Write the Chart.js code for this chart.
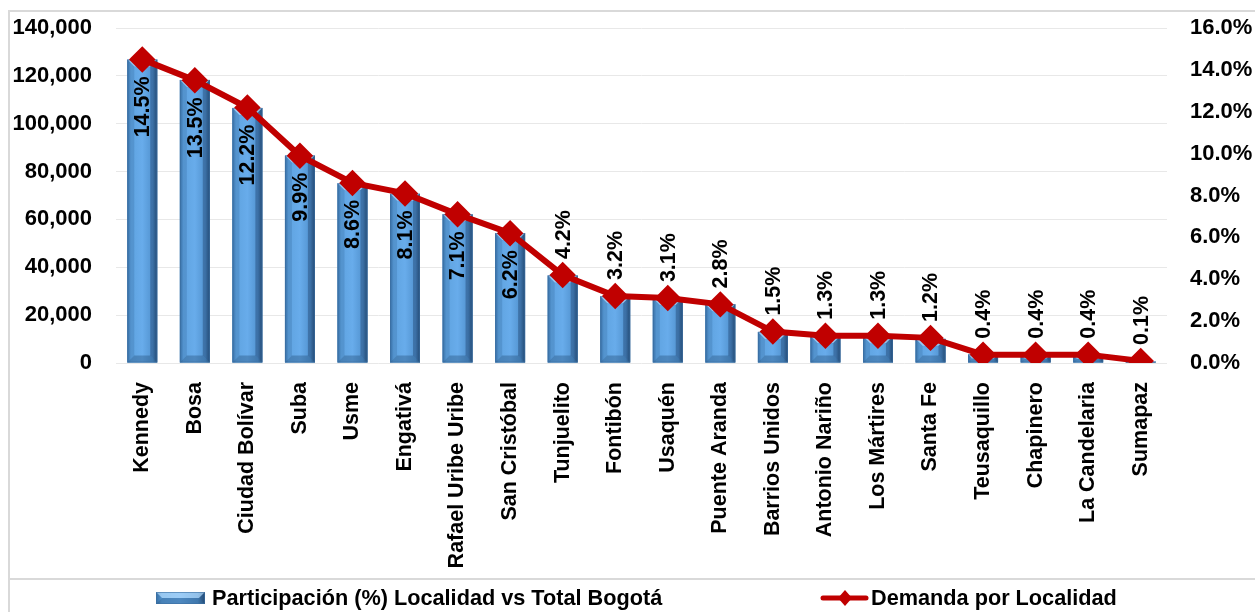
<!DOCTYPE html>
<html>
<head>
<meta charset="utf-8">
<script src="https://cdn.jsdelivr.net/npm/chart.js@4/dist/chart.umd.min.js"></script>
<style>
  html, body { margin: 0; padding: 0; background: #ffffff; }
  #wrap { width: 1255px; height: 612px; position: relative; }
</style>
</head>
<body>
<div id="wrap"><canvas id="c" width="1255" height="612"></canvas></div>
<script>
const categories = ["Kennedy", "Bosa", "Ciudad Bolívar", "Suba", "Usme", "Engativá", "Rafael Uribe Uribe", "San Cristóbal", "Tunjuelito", "Fontibón", "Usaquén", "Puente Aranda", "Barrios Unidos", "Antonio Nariño", "Los Mártires", "Santa Fe", "Teusaquillo", "Chapinero", "La Candelaria", "Sumapaz"];
const demandValues = [126800, 118300, 106600, 86700, 75100, 70700, 62200, 54300, 36600, 27900, 27200, 24600, 13000, 11300, 11200, 10100, 3600, 3500, 3300, 600];
const shareValues = [14.5, 13.5, 12.2, 9.9, 8.6, 8.1, 7.1, 6.2, 4.2, 3.2, 3.1, 2.8, 1.5, 1.3, 1.3, 1.2, 0.4, 0.4, 0.4, 0.1];
const leftTicks = [0, 20000, 40000, 60000, 80000, 100000, 120000, 140000];
const rightTicks = [0, 2, 4, 6, 8, 10, 12, 14, 16];
const barLegendLabel = "Participación (%) Localidad vs Total Bogotá";
const lineLegendLabel = "Demanda por Localidad";

const FONT = '"Liberation Sans", Arial, sans-serif';
const RED = '#c00000';

const frame = {
  id: 'frame',
  beforeDraw(chart) {
    const ctx = chart.ctx;
    ctx.save();
    ctx.fillStyle = '#ffffff';
    ctx.fillRect(0, 0, chart.width, chart.height);
    ctx.strokeStyle = '#d9d9d9';
    ctx.lineWidth = 2;
    ctx.beginPath();
    ctx.moveTo(9, chart.height + 5);
    ctx.lineTo(9, 11);
    ctx.lineTo(chart.width + 5, 11);
    ctx.stroke();
    ctx.beginPath();
    ctx.moveTo(9, 579);
    ctx.lineTo(chart.width + 5, 579);
    ctx.stroke();
    ctx.restore();
  }
};

function drawBevelBar(ctx, x0, x1, yTop, yBot) {
  const w = x1 - x0, h = yBot - yTop;
  if (h <= 0) return;
  const g = ctx.createLinearGradient(x0, 0, x1, 0);
  g.addColorStop(0, '#3b73aa');
  g.addColorStop(0.12, '#5fa3e0');
  g.addColorStop(0.5, '#68aceb');
  g.addColorStop(0.85, '#5293d0');
  g.addColorStop(1, '#2d5a86');
  ctx.fillStyle = g;
  ctx.fillRect(x0, yTop, w, h);
  const b = Math.min(7, h / 2, w / 2);
  ctx.fillStyle = 'rgba(200,232,255,0.55)';
  ctx.beginPath();
  ctx.moveTo(x0, yTop); ctx.lineTo(x1, yTop); ctx.lineTo(x1 - b, yTop + b); ctx.lineTo(x0 + b, yTop + b); ctx.closePath();
  ctx.fill();
  ctx.fillStyle = 'rgba(30,70,110,0.35)';
  ctx.beginPath();
  ctx.moveTo(x0, yBot); ctx.lineTo(x1, yBot); ctx.lineTo(x1 - b, yBot - b); ctx.lineTo(x0 + b, yBot - b); ctx.closePath();
  ctx.fill();
  ctx.fillStyle = 'rgba(40,90,140,0.22)';
  ctx.beginPath();
  ctx.moveTo(x0, yTop); ctx.lineTo(x0 + b, yTop + b); ctx.lineTo(x0 + b, yBot - b); ctx.lineTo(x0, yBot); ctx.closePath();
  ctx.fill();
  ctx.fillStyle = 'rgba(20,50,90,0.35)';
  ctx.beginPath();
  ctx.moveTo(x1, yTop); ctx.lineTo(x1 - b, yTop + b); ctx.lineTo(x1 - b, yBot - b); ctx.lineTo(x1, yBot); ctx.closePath();
  ctx.fill();
  ctx.strokeStyle = 'rgba(60,110,160,0.6)';
  ctx.lineWidth = 1;
  ctx.strokeRect(x0 + 0.5, yTop + 0.5, w - 1, h - 1);
}

const bevelBars = {
  id: 'bevelBars',
  afterDatasetDraw(chart, args) {
    if (args.index !== 1) return;
    const ctx = chart.ctx;
    const meta = chart.getDatasetMeta(1);
    ctx.save();
    meta.data.forEach(el => {
      const p = el.getProps(['x', 'y', 'base', 'width'], true);
      drawBevelBar(ctx, p.x - p.width / 2, p.x + p.width / 2, p.y, p.base);
    });
    ctx.restore();
  }
};

const pctLabels = {
  id: 'pctLabels',
  afterDatasetsDraw(chart) {
    const ctx = chart.ctx;
    const meta = chart.getDatasetMeta(0);
    ctx.save();
    ctx.font = 'bold 21.5px ' + FONT;
    ctx.fillStyle = '#000000';
    ctx.textBaseline = 'middle';
    meta.data.forEach((pt, i) => {
      const v = shareValues[i];
      const txt = v.toFixed(1) + '%';
      ctx.save();
      ctx.translate(pt.x, 0);
      ctx.rotate(-Math.PI / 2);
      if (v >= 5) {
        ctx.textAlign = 'right';
        ctx.fillText(txt, -(pt.y + 17), 1);
      } else {
        ctx.textAlign = 'left';
        ctx.fillText(txt, -(pt.y - 16), 1);
      }
      ctx.restore();
    });
    ctx.restore();
  }
};

const customLegend = {
  id: 'customLegend',
  afterDraw(chart) {
    const ctx = chart.ctx;
    const y = 598;
    ctx.save();
    drawBevelBar(ctx, 156, 205, y - 6, y + 6);
    ctx.font = 'bold 21.7px ' + FONT;
    ctx.fillStyle = '#000000';
    ctx.textBaseline = 'middle';
    ctx.textAlign = 'left';
    ctx.fillText(barLegendLabel, 212, y + 1);
    ctx.strokeStyle = RED;
    ctx.lineWidth = 5;
    ctx.lineCap = 'round';
    ctx.beginPath();
    ctx.moveTo(823, y); ctx.lineTo(866, y);
    ctx.stroke();
    ctx.fillStyle = RED;
    ctx.beginPath();
    ctx.moveTo(845, y - 8); ctx.lineTo(852, y); ctx.lineTo(845, y + 8); ctx.lineTo(838, y); ctx.closePath();
    ctx.fill();
    ctx.fillStyle = '#000000';
    ctx.fillText(lineLegendLabel, 871, y + 1);
    ctx.restore();
  }
};

function noPad(s) {
  s.paddingTop = 0; s.paddingBottom = 0; s.paddingLeft = 0; s.paddingRight = 0;
}

new Chart(document.getElementById('c'), {
  data: {
    labels: categories,
    datasets: [
      {
        type: 'line',
        label: lineLegendLabel,
        data: shareValues,
        yAxisID: 'y1',
        borderColor: RED,
        backgroundColor: RED,
        borderWidth: 6,
        pointStyle: 'rectRot',
        pointRadius: 9,
        pointHoverRadius: 9,
        pointBackgroundColor: RED,
        pointBorderColor: RED,
        tension: 0,
        order: 0
      },
      {
        type: 'bar',
        label: barLegendLabel,
        data: demandValues,
        yAxisID: 'y',
        backgroundColor: '#5b9fdc',
        borderWidth: 0,
        barPercentage: 0.57,
        categoryPercentage: 1.0,
        order: 1
      }
    ]
  },
  options: {
    responsive: false,
    animation: false,
    events: [],
    layout: { autoPadding: false, padding: { left: 0, right: 0, top: 28, bottom: 33 } },
    plugins: { legend: { display: false }, tooltip: { enabled: false } },
    scales: {
      x: {
        grid: { display: false, drawTicks: false },
        border: { display: false },
        ticks: {
          font: { family: FONT, size: 21.5, weight: 'bold' },
          color: '#000000',
          maxRotation: 90, minRotation: 90,
          padding: 19,
          autoSkip: false
        },
        afterFit(s) { s.height = 216; noPad(s); }
      },
      y: {
        position: 'left',
        min: 0, max: 140000,
        afterBuildTicks(s) { s.ticks = leftTicks.map(v => ({ value: v })); },
        grid: { color: '#e8e8e8', drawTicks: false, lineWidth: 1 },
        border: { display: false },
        ticks: {
          font: { family: FONT, size: 22, weight: 'bold' },
          color: '#000000',
          padding: 24,
          callback: v => Number(v).toLocaleString('en-US')
        },
        afterFit(s) { s.width = 116; noPad(s); }
      },
      y1: {
        position: 'right',
        min: 0, max: 16,
        afterBuildTicks(s) { s.ticks = rightTicks.map(v => ({ value: v })); },
        grid: { display: false, drawTicks: false },
        border: { display: false },
        ticks: {
          font: { family: FONT, size: 22, weight: 'bold' },
          color: '#000000',
          padding: 23,
          callback: v => Number(v).toFixed(1) + '%'
        },
        afterFit(s) { s.width = 88; noPad(s); }
      }
    }
  },
  plugins: [frame, bevelBars, pctLabels, customLegend]
});
</script>
</body>
</html>
